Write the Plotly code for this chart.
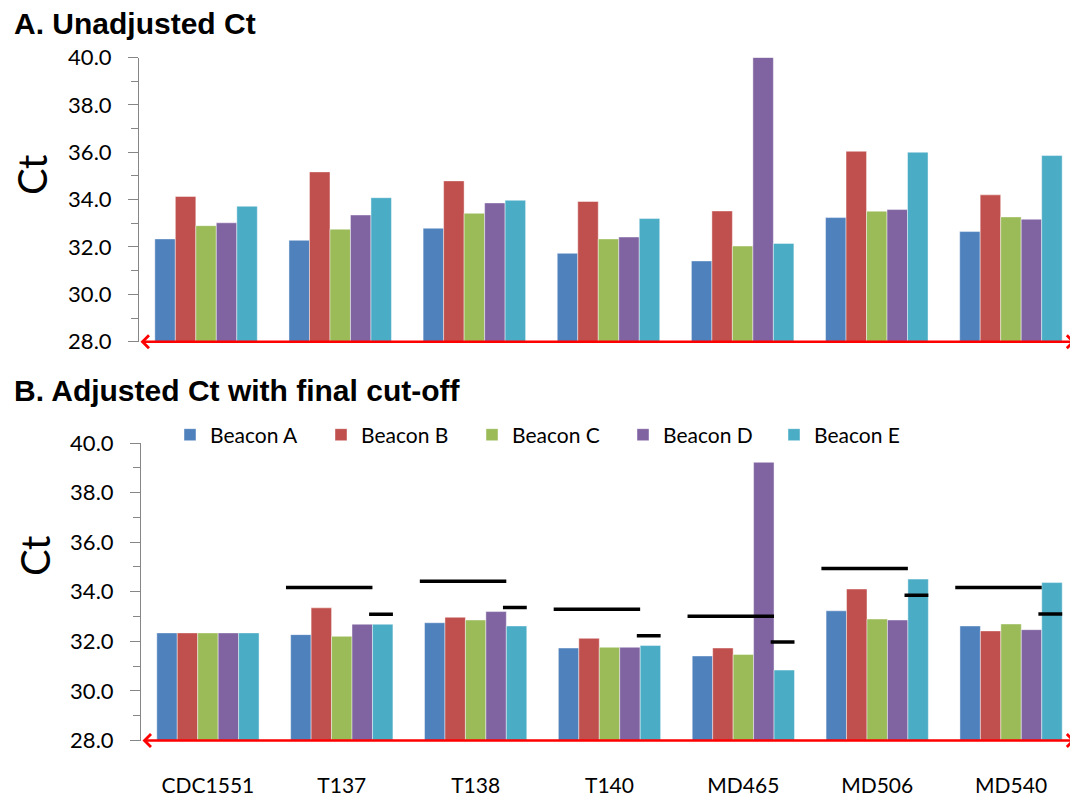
import plotly.graph_objects as go

categories = ["CDC1551", "T137", "T138", "T140", "MD465", "MD506", "MD540"]
series_names = ["Beacon A", "Beacon B", "Beacon C", "Beacon D", "Beacon E"]

# Panel A: unadjusted Ct
unadj_A = [32.34, 32.28, 32.79, 31.73, 31.41, 33.24, 32.65]
unadj_B = [34.13, 35.17, 34.79, 33.92, 33.52, 36.04, 34.20]
unadj_C = [32.90, 32.75, 33.42, 32.34, 32.04, 33.51, 33.27]
unadj_D = [33.02, 33.35, 33.86, 32.42, 40.00, 33.58, 33.17]
unadj_E = [33.72, 34.08, 33.97, 33.20, 32.15, 36.00, 35.86]

# Panel B: adjusted Ct
adj_A = [32.34, 32.27, 32.75, 31.73, 31.41, 33.23, 32.62]
adj_B = [32.34, 33.35, 32.97, 32.12, 31.73, 34.11, 32.42]
adj_C = [32.34, 32.20, 32.86, 31.76, 31.47, 32.90, 32.70]
adj_D = [32.34, 32.69, 33.20, 31.76, 39.22, 32.86, 32.47]
adj_E = [32.34, 32.69, 32.62, 31.83, 30.84, 34.51, 34.37]

# Final cut-off levels (beacons A-D and beacon E)
cutoff_AD = [None, 34.17, 34.42, 33.29, 33.01, 34.94, 34.17]
cutoff_E = [None, 33.09, 33.36, 32.23, 31.97, 33.86, 33.10]

y_ticks = [28, 30, 32, 34, 36, 38, 40]

colors = ["#4F81BD", "#C0504D", "#9BBB59", "#8064A2", "#4BACC6"]

W, H = 1078, 802
OFF = 8  # page body margin offset
FONT = "Lato"


def fx(px):
    return (px - OFF) / W


def fy(py):
    return 1 - (py - OFF) / H


unadj = [unadj_A, unadj_B, unadj_C, unadj_D, unadj_E]
adj = [adj_A, adj_B, adj_C, adj_D, adj_E]
xs = list(range(len(categories)))

fig = go.Figure()
for k, name in enumerate(series_names):
    fig.add_trace(go.Bar(x=xs, y=unadj[k], name=name, marker_color=colors[k],
                         marker_line=dict(color="rgba(255,255,255,0.55)", width=0.8),
                         showlegend=False, legendgroup=name, xaxis="x", yaxis="y"))
for k, name in enumerate(series_names):
    fig.add_trace(go.Bar(x=xs, y=adj[k], name=name, marker_color=colors[k],
                         marker_line=dict(color="rgba(255,255,255,0.55)", width=0.8),
                         showlegend=True, legendgroup=name, xaxis="x2", yaxis="y2"))

# cut-off segments: long over beacons A-D, short over beacon E
lx, ly, sx, sy = [], [], [], []
for i, (a, e) in enumerate(zip(cutoff_AD, cutoff_E)):
    if a is not None:
        lx += [i - 0.417, i + 0.229, None]
        ly += [a, a, None]
    if e is not None:
        sx += [i + 0.204, i + 0.382, None]
        sy += [e, e, None]
fig.add_trace(go.Scatter(x=lx, y=ly, mode="lines", line=dict(color="black", width=3.5),
                         showlegend=False, xaxis="x2", yaxis="y2", hoverinfo="skip"))
fig.add_trace(go.Scatter(x=sx, y=sy, mode="lines", line=dict(color="black", width=3.5),
                         showlegend=False, xaxis="x2", yaxis="y2", hoverinfo="skip"))


def yax(domain, anchor):
    return dict(domain=domain, anchor=anchor, range=[28, 40], tickvals=y_ticks,
                tickformat=".1f", ticks="outside", ticklen=10, tickwidth=1,
                tickcolor="#868686", showline=True, linecolor="#868686", linewidth=1,
                showgrid=False, zeroline=False, ticklabelstandoff=12, automargin=False,
                minor=dict(ticks="outside", dtick=1, ticklen=7, tickcolor="#868686", showgrid=False),
                tickfont=dict(family=FONT, size=22, color="black"))


def xax(domain, anchor, labels):
    return dict(domain=domain, anchor=anchor, range=[-0.5, len(categories) - 0.5],
                tickvals=xs, ticktext=categories, showticklabels=labels, ticks="",
                showline=False, showgrid=False, zeroline=False, ticklabelstandoff=30,
                automargin=False, tickfont=dict(family=FONT, size=21, color="black"))


top_dom = [fy(341.7), fy(57.5)]
bot_dom = [fy(740.5), fy(443.0)]

annotations = []
for xa, ya in (("x", "y"), ("x2", "y2")):
    annotations.append(dict(x=len(categories) - 0.52, y=28, xref=xa, yref=ya,
                            ax=-0.5, ay=28, axref=xa, ayref=ya, text="",
                            showarrow=True, arrowside="end+start", arrowhead=4,
                            startarrowhead=4, arrowsize=1, startarrowsize=1,
                            arrowwidth=2.5, arrowcolor="#FF0000"))
annotations += [
    dict(text="<b>A. Unadjusted Ct</b>", x=fx(13), y=fy(6), xref="paper", yref="paper",
         xanchor="left", yanchor="top", showarrow=False, borderpad=0,
         font=dict(family="Liberation Sans", size=30, color="black")),
    dict(text="<b>B. Adjusted Ct with final cut-off</b>", x=fx(13), y=fy(373), xref="paper",
         yref="paper", xanchor="left", yanchor="top", showarrow=False, borderpad=0,
         font=dict(family="Liberation Sans", size=30, color="black")),
    dict(text="Ct", x=fx(32), y=fy(175), xref="paper", yref="paper", textangle=-90,
         xanchor="center", yanchor="middle",
         showarrow=False, font=dict(family=FONT, size=40, color="black")),
    dict(text="Ct", x=fx(35), y=fy(556), xref="paper", yref="paper", textangle=-90,
         xanchor="center", yanchor="middle",
         showarrow=False, font=dict(family=FONT, size=40, color="black")),
]

fig.update_layout(
    template="none",
    width=W, height=H, margin=dict(l=0, r=0, t=0, b=0, pad=0, autoexpand=False),
    paper_bgcolor="white", plot_bgcolor="white",
    barmode="group", bargap=0.236, bargroupgap=0,
    xaxis=xax([fx(139), fx(1078)], "y", False),
    yaxis=yax(top_dom, "x"),
    xaxis2=xax([fx(141), fx(1078)], "y2", True),
    yaxis2=yax(bot_dom, "x2"),
    legend=dict(orientation="h", x=fx(170), y=fy(435), xanchor="left", yanchor="middle",
                font=dict(family=FONT, size=21, color="black"), entrywidth=106,
                bgcolor="rgba(0,0,0,0)", borderwidth=0, traceorder="normal"),
    annotations=annotations,
    font=dict(family=FONT),
)

fig.write_html("out.html")
